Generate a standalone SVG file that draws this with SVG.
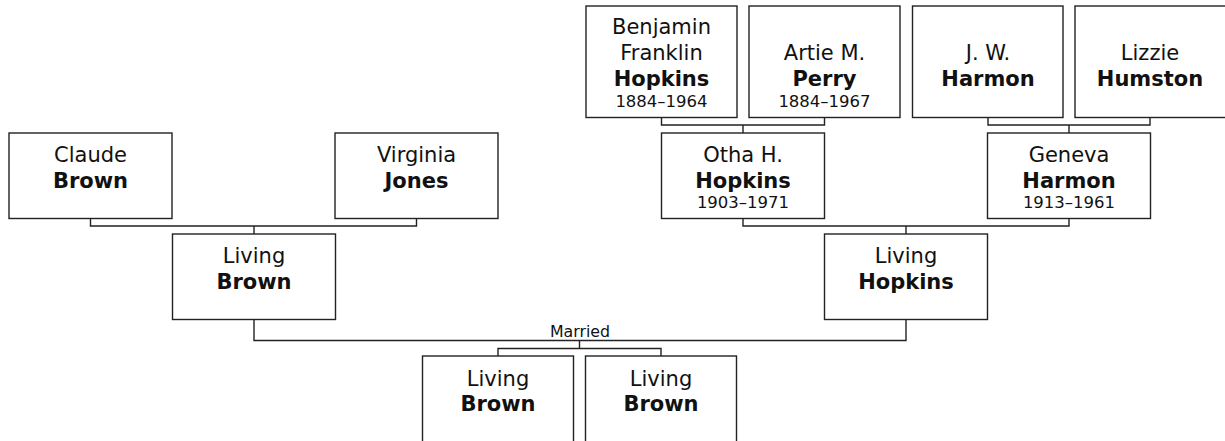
<svg xmlns="http://www.w3.org/2000/svg" width="1225" height="441" viewBox="0 0 1225 441">
<style>
.box{fill:#fff;stroke:#222;stroke-width:1.4}
.ln{fill:none;stroke:#222;stroke-width:1.4}
text{font-family:"DejaVu Sans","Verdana",sans-serif;fill:#111;text-anchor:middle}
.n{font-size:21px}
.b{font-size:21px;font-weight:bold}
.d{font-size:16.5px}
.m{font-size:15.8px}
</style>
<rect width="1225" height="441" fill="#fff"/>
<g id="connectors">
<path class="ln" d="M661.5,117.5 V125 H824.5 V117.5 M743,125 V133"/>
<path class="ln" d="M988,117.5 V125 H1150 V117.5 M1069,125 V133"/>
<path class="ln" d="M90.5,218.5 V226 H416.5 V218.5 M254,226 V234"/>
<path class="ln" d="M743,218.5 V226 H1069 V218.5 M906,226 V234"/>
<path class="ln" d="M254,319.5 V340.5 H906 V319.5"/>
<path class="ln" d="M579.5,340.5 V348.5 M498,356 V348.5 H661 V356"/>
<text class="m" x="580" y="336.5">Married</text>
</g>
<g id="benjamin"><rect class="box" x="586" y="6" width="151" height="111.5"/>
<text class="n" x="661.5" y="34.3">Benjamin</text><text class="n" x="661.5" y="60">Franklin</text><text class="b" x="661.5" y="86">Hopkins</text><text class="d" x="661.5" y="106.5">1884–1964</text></g>
<g id="artie"><rect class="box" x="749" y="6" width="151" height="111.5"/>
<text class="n" x="824.5" y="60">Artie M.</text><text class="b" x="824.5" y="86">Perry</text><text class="d" x="824.5" y="106.5">1884–1967</text></g>
<g id="jw"><rect class="box" x="912.5" y="6" width="150.5" height="111.5"/>
<text class="n" x="988" y="60">J. W.</text><text class="b" x="988" y="86">Harmon</text></g>
<g id="lizzie"><rect class="box" x="1075" y="6" width="151" height="111.5"/>
<text class="n" x="1150" y="60">Lizzie</text><text class="b" x="1150" y="86">Humston</text></g>
<g id="claude"><rect class="box" x="9" y="133" width="163" height="85.5"/>
<text class="n" x="90.5" y="162">Claude</text><text class="b" x="90.5" y="188">Brown</text></g>
<g id="virginia"><rect class="box" x="335" y="133" width="163" height="85.5"/>
<text class="n" x="416.5" y="162">Virginia</text><text class="b" x="416.5" y="188">Jones</text></g>
<g id="otha"><rect class="box" x="661.5" y="133" width="163" height="85.5"/>
<text class="n" x="743" y="161.5">Otha H.</text><text class="b" x="743" y="187.5">Hopkins</text><text class="d" x="743" y="208">1903–1971</text></g>
<g id="geneva"><rect class="box" x="987.5" y="133" width="163" height="85.5"/>
<text class="n" x="1069" y="161.5">Geneva</text><text class="b" x="1069" y="187.5">Harmon</text><text class="d" x="1069" y="208">1913–1961</text></g>
<g id="livingbrown"><rect class="box" x="172.5" y="234" width="163" height="85.5"/>
<text class="n" x="254" y="263">Living</text><text class="b" x="254" y="289">Brown</text></g>
<g id="livinghopkins"><rect class="box" x="824.5" y="234" width="163" height="85.5"/>
<text class="n" x="906" y="263">Living</text><text class="b" x="906" y="289">Hopkins</text></g>
<g id="child1"><rect class="box" x="422.5" y="356" width="151" height="100"/>
<text class="n" x="498" y="386">Living</text><text class="b" x="498" y="411">Brown</text></g>
<g id="child2"><rect class="box" x="585.5" y="356" width="151" height="100"/>
<text class="n" x="661" y="386">Living</text><text class="b" x="661" y="411">Brown</text></g>
</svg>
